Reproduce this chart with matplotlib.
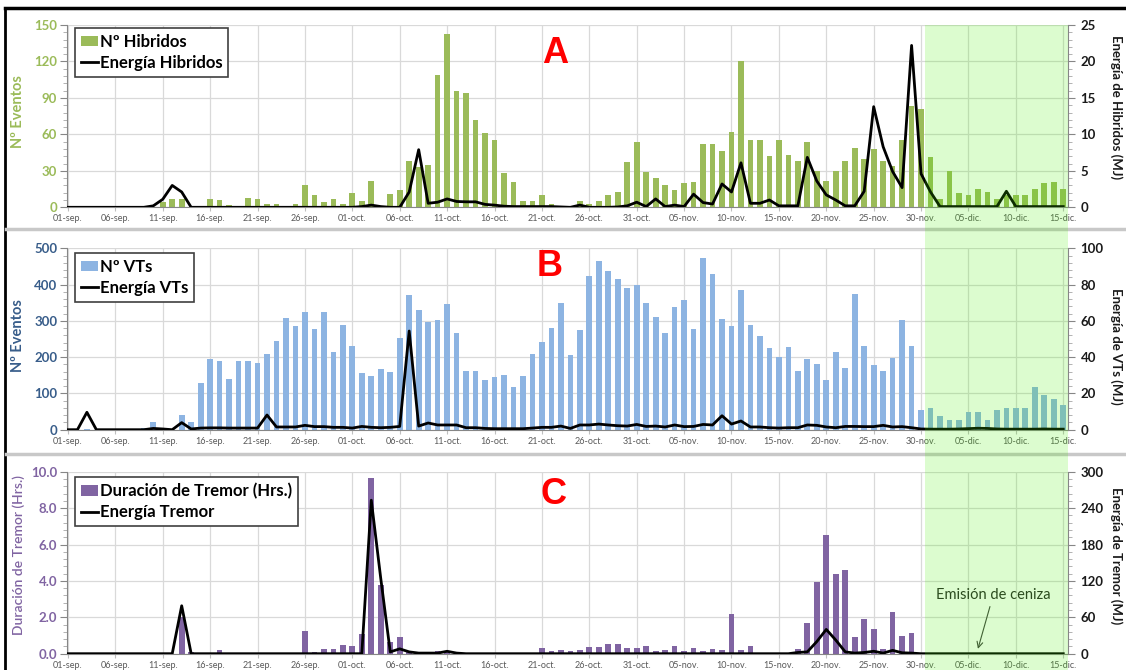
import matplotlib
matplotlib.use('Agg')
import matplotlib.pyplot as plt
import matplotlib.transforms as mtransforms
from matplotlib.lines import Line2D
from matplotlib.patches import Rectangle, Patch
from matplotlib.ticker import AutoMinorLocator
import numpy as np

plt.rcParams['font.family'] = ['Lato', 'DejaVu Sans']

# etiquetas del eje X (cada 5 dias, 01-sep a 15-dic)
fechas = ['01-sep.', '06-sep.', '11-sep.', '16-sep.', '21-sep.', '26-sep.',
          '01-oct.', '06-oct.', '11-oct.', '16-oct.', '21-oct.', '26-oct.',
          '31-oct.', '05-nov.', '10-nov.', '15-nov.', '20-nov.', '25-nov.',
          '30-nov.', '05-dic.', '10-dic.', '15-dic.']

# ---- A: Hibridos ----
hib_sep = [0, 0, 0, 0, 0, 0, 0, 0, 0, 0, 4, 7, 7, 0, 0, 7, 6, 2, 0, 8,
           7, 3, 3, 0, 3, 18, 10, 4, 7, 3]
hib_oct = [12, 5, 22, 0, 11, 14, 38, 33, 35, 109, 143, 96, 94, 72, 61, 55, 28, 21, 5, 5,
           10, 3, 1, 0, 5, 3, 5, 10, 13, 37, 54]
hib_nov = [29, 24, 18, 14, 20, 21, 52, 52, 46, 62, 120, 55, 55, 42, 55, 43, 38, 54, 30, 22,
           30, 38, 49, 40, 48, 38, 34, 55, 83, 81]
hib_dic = [41, 7, 30, 12, 10, 15, 13, 7, 10, 10, 10, 15, 20, 21, 15]

e_hib_sep = [0, 0, 0, 0, 0, 0, 0, 0, 0, 0.2, 1.1, 3.0, 2.1, 0, 0, 0, 0, 0, 0, 0,
             0, 0, 0, 0, 0, 0, 0, 0, 0, 0]
e_hib_oct = [0, 0.1, 0.3, 0.1, 0, 0, 2.1, 7.9, 0.55, 0.7, 1.15, 0.8, 0.75, 0.75, 0.4, 0.3, 0.15, 0.1, 0.1, 0.1,
             0.1, 0.1, 0.05, 0, 0.3, 0, 0, 0, 0.05, 0.2, 0.7]
e_hib_nov = [0.1, 1.15, 0.1, 0.3, 0.1, 1.8, 0.65, 0.45, 3.2, 2.1, 6.1, 0.55, 0.55, 1.0, 0.2, 0.2, 0.2, 6.85, 3.6, 1.7,
             1.0, 0.2, 0.2, 2.2, 13.8, 8.3, 4.9, 2.7, 22.2, 4.6]
e_hib_dic = [2.1, 0.1, 0.1, 0.1, 0.1, 0.1, 0.1, 0.1, 2.2, 0.1, 0.1, 0.1, 0.1, 0.1, 0.1]

# ---- B: VTs ----
vt_sep = [0, 0, 3, 0, 0, 0, 0, 0, 5, 20, 0, 0, 40, 21, 130, 194, 190, 140, 188, 190,
          184, 210, 244, 309, 286, 324, 277, 324, 215, 288]
vt_oct = [232, 156, 147, 167, 160, 252, 372, 329, 297, 303, 347, 266, 162, 163, 136, 145, 150, 118, 148, 210,
          241, 280, 350, 207, 275, 425, 466, 437, 415, 391, 400]
vt_nov = [350, 311, 267, 338, 358, 277, 472, 430, 305, 286, 385, 288, 257, 224, 201, 228, 162, 195, 182, 136,
          215, 169, 374, 230, 177, 162, 199, 301, 230, 55]
vt_dic = [59, 39, 28, 28, 48, 50, 28, 55, 61, 60, 60, 117, 95, 85, 68]

e_vt_sep = [0, 0, 9.6, 0, 0, 0, 0, 0, 0, 0.7, 0.4, 0, 3.9, 0.4, 0.9, 1, 1, 0.9, 0.9, 0.9,
            0.9, 8.1, 1.5, 1.5, 1.5, 2.4, 1.7, 1.7, 1.3, 1.3]
e_vt_oct = [0.9, 1.8, 1.3, 1.1, 1.3, 1.8, 54.4, 2, 3.7, 2.6, 2.6, 2.6, 1.1, 1.1, 0.7, 0.55, 0.55, 0.55, 0.55, 0.9,
            1.3, 1.3, 2, 0.7, 2.6, 2.6, 3.1, 2.6, 2.2, 2, 2.9]
e_vt_nov = [1.8, 2, 1.5, 2.6, 1.7, 1.8, 2.9, 2.6, 7.7, 3.1, 4.8, 1.5, 1.5, 1.1, 0.9, 1.1, 1.1, 2.6, 2.4, 1.5,
            1.1, 1.8, 1.8, 1.7, 1.7, 2.4, 1.5, 1.7, 1.1, 0.4]
e_vt_dic = [0.3, 0.3, 0.3, 0.4, 0.6, 0.8, 0.7, 0.4, 0.3, 0.3, 0.3, 0.3, 0.4, 0.3, 0.3]

# ---- C: Tremor ----
tr_sep = [0, 0, 0, 0, 0, 0, 0, 0, 0, 0, 0, 0, 2.0, 0.1, 0, 0, 0.2, 0, 0, 0,
          0, 0, 0.05, 0, 0.05, 1.25, 0.1, 0.25, 0.25, 0.46]
tr_oct = [0.44, 1.06, 9.63, 3.77, 0.66, 0.9, 0.15, 0.1, 0.1, 0.15, 0.1, 0.05, 0, 0, 0, 0, 0, 0, 0, 0,
          0.3, 0.16, 0.22, 0.13, 0.22, 0.37, 0.37, 0.53, 0.51, 0.29, 0.29]
tr_nov = [0.4, 0.15, 0.22, 0.4, 0.15, 0.29, 0.15, 0.26, 0.18, 2.2, 0.22, 0.4, 0, 0, 0, 0, 0.26, 1.68, 3.96, 6.52,
          4.4, 4.58, 0.9, 1.89, 1.34, 0.26, 2.27, 1.0, 1.12, 0]
tr_dic = [0, 0, 0, 0, 0, 0.05, 0, 0, 0, 0, 0, 0, 0, 0, 0]

e_tr_sep = [0, 0, 0, 0, 0, 0, 0, 0, 0, 0, 0, 0, 79, 0, 0, 0, 0, 0, 0, 0,
            0, 0, 0, 0, 0, 0, 0, 0, 0, 0]
e_tr_oct = [0, 0, 253, 124, 3, 8, 3, 1, 1, 1, 4, 1, 0, 0, 0, 0, 0, 0, 0, 0,
            0, 0, 0, 0, 0, 0, 0, 0, 0, 0, 0]
e_tr_nov = [0, 0, 0, 0, 0, 0, 0, 0, 0, 0, 0, 0, 0, 0, 0, 0, 2, 3, 20, 40,
            22.5, 3, 1, 2, 4, 1, 5.5, 1.5, 1, 0]
e_tr_dic = [0, 0, 0, 0, 0, 0, 0, 0, 0, 0, 0, 0, 0, 0, 0]

hibridos = hib_sep + hib_oct + hib_nov + hib_dic
e_hibridos = e_hib_sep + e_hib_oct + e_hib_nov + e_hib_dic
vts = vt_sep + vt_oct + vt_nov + vt_dic
e_vts = e_vt_sep + e_vt_oct + e_vt_nov + e_vt_dic
tremor = tr_sep + tr_oct + tr_nov + tr_dic
e_tremor = e_tr_sep + e_tr_oct + e_tr_nov + e_tr_dic

dias = np.arange(len(hibridos))
inicio_ceniza = 90.45  # zona sombreada desde el 1-dic

W, H = 1126, 670
fig = plt.figure(figsize=(W / 100, H / 100), dpi=100)


def rect_px(l, t, r, b):
    return [l / W, 1 - b / H, (r - l) / W, (b - t) / H]


XMAX = 105.5


def panel(pos, barras, energia, color_barra, color_eje, ymax, y2max, yfmt,
          ylabel, y2label, lab_barra, lab_linea, letra, letra_xy, ylab_y, y2lab_y,
          ylab_size, ylab_weight, leg_y):
    ax = fig.add_axes(rect_px(*pos))
    ax.bar(dias, barras, width=0.6, color=color_barra, zorder=2)
    ax.set_xlim(-0.1, XMAX)
    ax.set_ylim(0, ymax)
    yt = np.linspace(0, ymax, 6)
    ax.set_yticks(yt, [yfmt % v for v in yt], fontsize=9.5, fontweight='bold')
    ax.yaxis.set_minor_locator(AutoMinorLocator(5))
    ax.set_xticks(np.arange(0, 106, 5), fechas, fontsize=6.5, color='#595959')
    ax.tick_params(axis='y', which='major', length=5, color='#868686', labelcolor=color_eje, pad=2)
    ax.tick_params(axis='y', which='minor', length=3, color='#a6a6a6')
    ax.tick_params(axis='x', length=3, color='#bfbfbf', pad=2)
    ax.grid(True, color='#d9d9d9', lw=0.9)
    ax.set_axisbelow(True)
    for s in ['top', 'right']:
        ax.spines[s].set_visible(False)
    ax.spines['left'].set_color('#868686')
    ax.spines['bottom'].set_color('#868686')
    ax.set_ylabel(ylabel, color=color_eje, fontsize=ylab_size, fontweight=ylab_weight)
    ax.yaxis.set_label_coords(-0.042, ylab_y)

    ax2 = ax.twinx()
    ax2.plot(dias, energia, color='black', lw=2, zorder=3)
    ax2.set_xlim(-0.1, XMAX)
    ax2.set_ylim(0, y2max)
    yt2 = np.linspace(0, y2max, 6)
    ax2.set_yticks(yt2, ['%d' % v for v in yt2], fontsize=9.5, fontweight='bold')
    ax2.yaxis.set_minor_locator(AutoMinorLocator(5))
    ax2.tick_params(axis='y', which='major', length=5, color='#868686', labelcolor='#1a1a1a', pad=4)
    ax2.tick_params(axis='y', which='minor', length=3, color='#a6a6a6')
    for s in ['top', 'left', 'bottom']:
        ax2.spines[s].set_visible(False)
    ax2.spines['right'].set_color('#868686')
    ax2.set_ylabel(y2label, rotation=270, fontsize=9.5, fontweight='bold',
                   color='#1a1a1a', va='center', ha='center')
    ax2.yaxis.set_label_coords(1.048, y2lab_y)

    handles = [Patch(facecolor=color_barra), Line2D([], [], color='black', lw=2)]
    leg = ax2.legend(handles, [lab_barra, lab_linea], loc='upper left',
                     bbox_to_anchor=(0.008, leg_y), borderaxespad=0,
                     prop={'weight': 'bold', 'size': 12}, fancybox=False,
                     framealpha=1, edgecolor='#404040', handlelength=1.05,
                     handleheight=0.6, handletextpad=0.1, borderpad=0.35,
                     labelspacing=0.3)
    leg.get_frame().set_linewidth(1.2)

    ax.text(letra_xy[0], letra_xy[1], letra, transform=ax.transAxes, fontsize=26,
            fontweight='bold', color='#ff0000', family='Liberation Sans',
            ha='center', va='center', zorder=5)
    return ax, ax2


axA, axA2 = panel((67, 25, 1068, 207.3), hibridos, e_hibridos, '#9bbb59', '#9bbb59',
                  150, 25, '%d', u'Nº Eventos', u'Energía de Hibridos (MJ)',
                  u'Nº Hibridos', u'Energía Hibridos', 'A', (0.4875, 0.846),
                  0.527, 0.55, 10.5, 'bold', 0.984)

axB, axB2 = panel((67, 248.3, 1068, 429.7), vts, e_vts, '#8db4e2', '#385d8a',
                  500, 100, '%d', u'Nº Eventos', u'Energía de VTs (MJ)',
                  u'Nº VTs', u'Energía VTs', 'B', (0.4825, 0.902),
                  0.52, 0.46, 10.5, 'bold', 0.974)

axC, axC2 = panel((67, 471.7, 1068, 653.7), tremor, e_tremor, '#8064a2', '#8064a2',
                  10, 300, '%.1f', u'Duración de Tremor (Hrs.)', u'Energía de Tremor (MJ)',
                  u'Duración de Tremor (Hrs.)', u'Energía Tremor', 'C', (0.4865, 0.877),
                  0.54, 0.54, 10, 'semibold', 0.971)

axC2.annotate(u'Emisión de ceniza', xy=(96, 8), xytext=(97.6, 96),
              ha='center', va='center', fontsize=10.5, color='#262626',
              arrowprops=dict(arrowstyle='->', color='#404040', lw=0.8,
                              shrinkA=1, shrinkB=0))

# zona sombreada (1-dic en adelante), sobre los tres paneles
trans = mtransforms.blended_transform_factory(axA.transData, fig.transFigure)
sombra = Rectangle((inicio_ceniza, 0), XMAX - inicio_ceniza, 1 - 25 / H, transform=trans,
                   facecolor=(0.27, 0.94, 0.0), alpha=0.19, edgecolor='none', zorder=10)
fig.add_artist(sombra)

# marco y separadores
fig.add_artist(Line2D([5 / W, 5 / W], [0, 1 - 8 / H], transform=fig.transFigure, color='black', lw=2))
fig.add_artist(Line2D([5 / W, 1], [1 - 8 / H, 1 - 8 / H], transform=fig.transFigure, color='black', lw=2.5))
for yy in [229.5, 453.5]:
    fig.add_artist(Line2D([6 / W, 1], [1 - yy / H, 1 - yy / H], transform=fig.transFigure,
                          color='#c8c8c8', lw=2.5))

plt.savefig('out.png', dpi=100)
